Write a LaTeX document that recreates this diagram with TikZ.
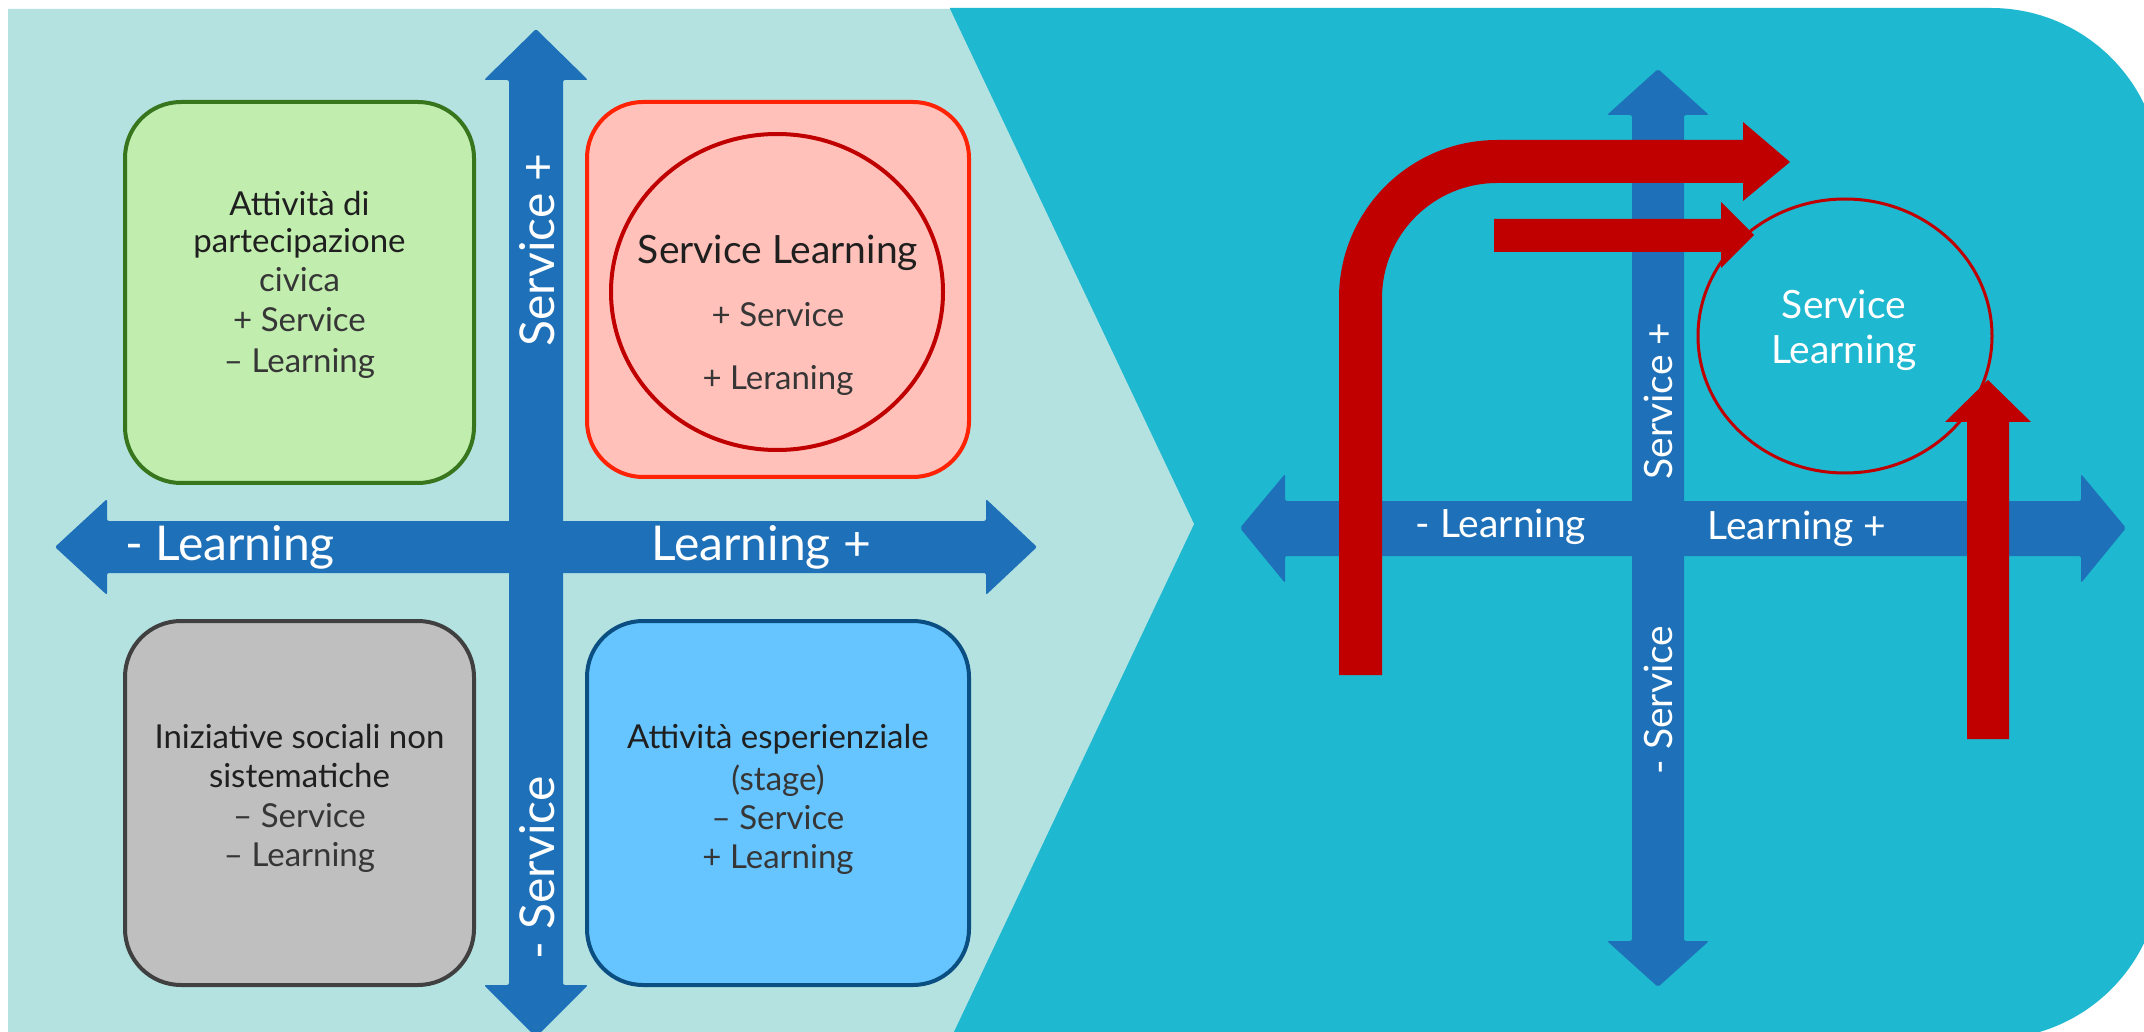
\documentclass[tikz,border=0pt]{standalone}
\usepackage{fontspec}
\setmainfont{Lato}
\usetikzlibrary{shapes.geometric}

\definecolor{paleteal}{HTML}{B4E2E1}
\definecolor{deepteal}{HTML}{1EB8D0}
\definecolor{axisblue}{HTML}{1E71B8}
\definecolor{arrowred}{HTML}{C00000}
\definecolor{greenfill}{HTML}{C1EDAE}
\definecolor{greenline}{HTML}{38761D}
\definecolor{pinkfill}{HTML}{FFC1B9}
\definecolor{pinkline}{HTML}{FF2305}
\definecolor{grayfill}{HTML}{BFBFBF}
\definecolor{grayline}{HTML}{404040}
\definecolor{bluefill}{HTML}{66C5FF}
\definecolor{blueline}{HTML}{0B4F82}
\definecolor{txtdark}{HTML}{1F1F1F}
\definecolor{txtlight}{HTML}{363636}

\tikzset{
  qbox/.style={rectangle, rounded corners=28pt, line width=2pt, inner sep=0pt},
  headline/.style={anchor=base, inner sep=0pt, text=txtdark, font=\fontsize{16.5}{19.5}\selectfont},
  subline/.style={anchor=base, inner sep=0pt, text=txtlight, font=\fontsize{16.5}{19.5}\selectfont},
  biglabel/.style={inner sep=0pt, text=white, font=\fontsize{24}{28}\selectfont},
  smalllabel/.style={inner sep=0pt, text=white, font=\fontsize{19.5}{23}\selectfont},
  blueaxis/.style={fill=axisblue, rounded corners=1pt},
  redarrow/.style={fill=arrowred}
}

\begin{document}
\begin{tikzpicture}[x=0.5pt,y=-0.5pt]
\useasboundingbox (0,0) rectangle (2144,1032);
\clip (0,0) rectangle (2144,1032);
\fill[white] (0,0) rectangle (2144,1032);

% right-hand backdrop with rounded right corners
\fill[deepteal] (950,8) -- (1991,8)
  .. controls (2084.9,8) and (2161,84.1) .. (2161,178)
  -- (2161,869)
  .. controls (2161,962.9) and (2084.9,1039) .. (1991,1039)
  -- (950,1039) -- cycle;

% left-hand chevron panel
\fill[paleteal] (8,9) -- (950,9) -- (1194,524) -- (950,1040) -- (8,1040) -- cycle;

% ---------- left panel: quadrant boxes ----------
\node[qbox, fill=greenfill, draw=greenline, minimum width=174.5pt, minimum height=190.5pt] (civic) at (299.5,292.5) {};
\node[qbox, fill=pinkfill, draw=pinkline, minimum width=191pt, minimum height=187.5pt] (slbox) at (778,289.5) {};
\node[qbox, fill=grayfill, draw=grayline, minimum width=174.5pt, minimum height=182pt] (social) at (299.5,803) {};
\node[qbox, fill=bluefill, draw=blueline, minimum width=191pt, minimum height=182pt] (stage) at (778,803) {};

\node[ellipse, draw=arrowred, line width=2pt, minimum width=166pt, minimum height=158pt, inner sep=0pt] (slcircle) at (777,292) {};

% box texts
\node[headline] (c1) at (299.5,216) {Attività di};
\node[headline] (c2) at (299.5,253) {partecipazione};
\node[subline]  (c3) at (299.5,292) {civica};
\node[subline]  (c4) at (299.5,332) {+ Service};
\node[subline]  (c5) at (299.5,372) {– Learning};

\node[headline, font=\fontsize{19.5}{23}\selectfont] (s1) at (778,264) {Service Learning};
\node[subline]  (s2) at (778,327) {+ Service};
\node[subline]  (s3) at (778,390) {+ Leraning};

\node[headline] (n1) at (299.5,748) {Iniziative sociali non};
\node[headline] (n2) at (299.5,787) {sistematiche};
\node[subline]  (n3) at (299.5,827) {– Service};
\node[subline]  (n4) at (299.5,866) {– Learning};

\node[headline] (e1) at (778,748) {Attività esperienziale};
\node[subline]  (e2) at (778,790) {(stage)};
\node[subline]  (e3) at (778,829) {– Service};
\node[subline]  (e4) at (778,868) {+ Learning};

% ---------- left panel: axes ----------
\fill[blueaxis] (509,80) -- (484,80) -- (536,29) -- (588,80) -- (563,80)
  -- (563,985) -- (588,985) -- (536,1037) -- (484,985) -- (509,985) -- cycle;
\fill[blueaxis] (107,521) -- (107,499) -- (55,547) -- (107,595) -- (107,573)
  -- (986,573) -- (986,595) -- (1037,547) -- (986,499) -- (986,521) -- cycle;

\node[biglabel] (lm) at (230,547) {- Learning};
\node[biglabel] (lp) at (761,547) {Learning +};
\node[biglabel, rotate=90] (sp) at (537,250) {Service +};
\node[biglabel, rotate=90] (sm) at (537,868) {- Service};

% ---------- right panel: axes ----------
\fill[blueaxis] (1632,115) -- (1607,115) -- (1658,69) -- (1709,115) -- (1684,115)
  -- (1684,941) -- (1709,941) -- (1658,987) -- (1607,941) -- (1632,941) -- cycle;
\fill[blueaxis] (1285,501) -- (1285,474) -- (1240,528) -- (1285,583) -- (1285,556)
  -- (2081,556) -- (2081,583) -- (2126,528) -- (2081,474) -- (2081,501) -- cycle;

\node[smalllabel] (rlm) at (1501,527) {- Learning};
\node[smalllabel] (rlp) at (1797,529) {Learning +};
\node[smalllabel, rotate=90] (rsp) at (1658,401) {Service +};
\node[smalllabel, rotate=90] (rsm) at (1658,700) {- Service};

% target ellipse
\node[ellipse, draw=arrowred, line width=1.5pt, minimum width=147pt, minimum height=137pt, inner sep=0pt] (target) at (1845,336) {};
\node[smalllabel, anchor=base] (t1) at (1844,319) {Service};
\node[smalllabel, anchor=base] (t2) at (1844,364) {Learning};

% ---------- red paths towards the target ----------
\fill[redarrow] (1339,675) -- (1339,298)
  .. controls (1339,210.7) and (1409.7,140) .. (1497,140)
  -- (1743,140) -- (1743,122) -- (1790,162) -- (1743,201) -- (1743,183)
  -- (1497,183)
  .. controls (1433.5,183) and (1382,234.5) .. (1382,298)
  -- (1382,675) -- cycle;
\fill[redarrow] (1494,219) -- (1721,219) -- (1721,202) -- (1754,235)
  -- (1721,268) -- (1721,252) -- (1494,252) -- cycle;
\fill[redarrow] (1967,739) -- (1967,422) -- (1945,422) -- (1988,380)
  -- (2031,422) -- (2009,422) -- (2009,739) -- cycle;
\end{tikzpicture}
\end{document}
